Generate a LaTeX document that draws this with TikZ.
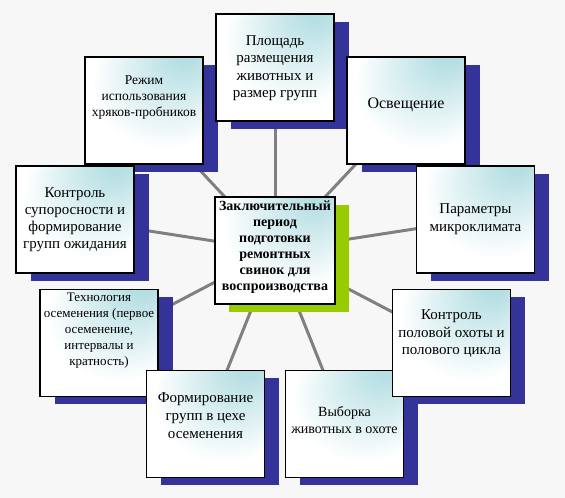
\documentclass[tikz,border=0pt]{standalone}
\usepackage{fontspec}
\setmainfont{Liberation Serif}
\usetikzlibrary{shadows}
\definecolor{bgc}{RGB}{247,247,247}
\definecolor{navyc}{RGB}{51,51,153}
\definecolor{greenc}{RGB}{153,204,0}
\definecolor{tealc}{RGB}{182,223,227}
\definecolor{linec}{RGB}{128,128,128}
\pgfdeclareradialshading{boxsh}{\pgfpoint{20bp}{30bp}}{color(0bp)=(tealc); color(5bp)=(tealc); color(30bp)=(white); color(50bp)=(white)}
\pgfdeclarelayer{bg}
\pgfsetlayers{bg,main}
\tikzset{
  basebox/.style={draw=black, line width=1.2pt, shading=boxsh, minimum width=118pt, minimum height=107pt, inner sep=0pt},
  box/.style={basebox, drop shadow={fill=navyc, opacity=1, shadow xshift=14.5pt, shadow yshift=-7.5pt}},
  cbox/.style={basebox, minimum width=120pt, drop shadow={fill=greenc, opacity=1, shadow xshift=14pt, shadow yshift=-8pt}},
  txt/.style={align=center, inner sep=0pt},
  conn/.style={draw=linec, line width=3pt}
}
\begin{document}
\begin{tikzpicture}[x=1pt,y=-1pt]
\useasboundingbox (0,0) rectangle (565,498);
% boxes
\node[box] (rezh) at (144,110.5) {};
\node[box] (plo) at (275,67.5) {};
\node[box] (osv) at (406,110.5) {};
\node[box] (par) at (475.5,219.5) {};
\node[box] (vyb) at (344.5,424) {};
\node[box] (pol) at (451.5,343) {};
\node[box] (tech) at (99,343) {};
\node[box] (form) at (205.5,424) {};
\node[box] (sup) at (75,219.5) {};
\node[cbox] (cen) at (275,250.5) {};
% texts
\node[txt, font=\fontsize{13.5}{16}\selectfont] (rezh-t) at (144,98) {Режим\\использования\\хряков-пробников};
\node[txt, font=\fontsize{15}{17.5}\selectfont] (plo-t) at (275,68) {Площадь\\размещения\\животных и\\размер групп};
\node[txt, font=\fontsize{16}{18}\selectfont] (osv-t) at (406,105) {Освещение};
\node[txt, font=\fontsize{15}{17.7}\selectfont] (par-t) at (475.5,219) {Параметры\\микроклимата};
\node[txt, font=\fontsize{15}{17.5}\selectfont] (pol-t) at (451.5,334) {Контроль\\половой охоты и\\полового цикла};
\node[txt, font=\fontsize{14}{16.7}\selectfont] (vyb-t) at (344.5,420) {Выборка\\животных в охоте};
\node[txt, font=\fontsize{15}{18}\selectfont] (form-t) at (205.5,416) {Формирование\\групп в цехе\\осеменения};
\node[txt, font=\fontsize{13}{16}\selectfont] (tech-t) at (99,331) {Технология\\осеменения (первое\\осеменение,\\интервалы и\\кратность)};
\node[txt, font=\fontsize{15}{17}\selectfont] (sup-t) at (75,220) {Контроль\\супоросности и\\формирование\\групп ожидания};
\node[txt, font=\bfseries\fontsize{14}{16}\selectfont] (cen-t) at (275,247) {Заключительный\\период\\подготовки\\ремонтных\\свинок для\\воспроизводства};
% background and connectors
\begin{pgfonlayer}{bg}
\fill[bgc] (0,0) rectangle (565,498);
\foreach \n in {plo,osv,par,pol,vyb,form,tech,sup,rezh}
  \draw[conn] (cen.center) -- (\n.center);
\end{pgfonlayer}
\end{tikzpicture}
\end{document}
